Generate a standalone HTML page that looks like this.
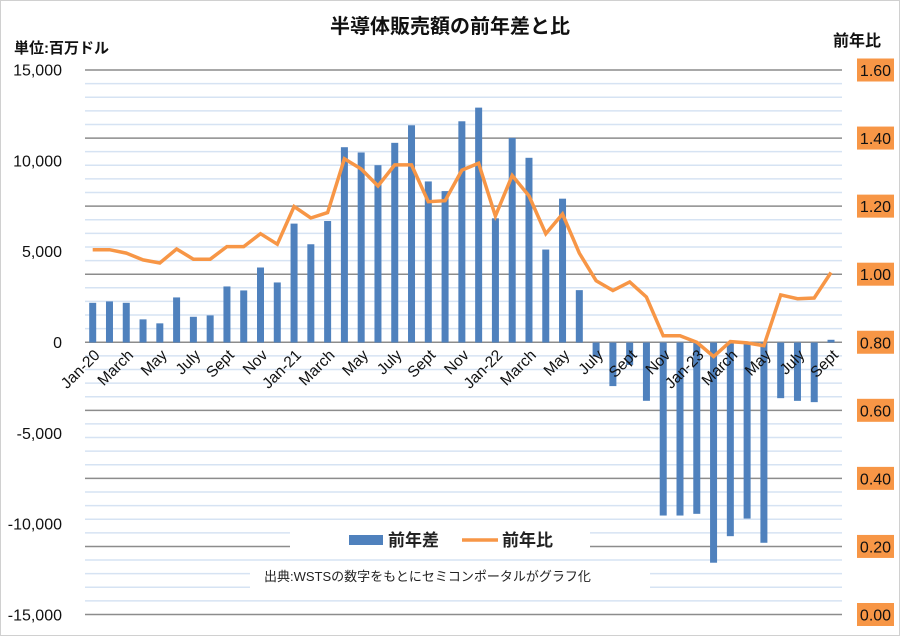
<!DOCTYPE html>
<html><head><meta charset="utf-8">
<style>
html,body{margin:0;padding:0;background:#fff;}
svg{display:block;font-family:"Liberation Sans","Noto Sans CJK JP",sans-serif;}
</style></head>
<body>
<svg id="chart" width="900" height="636" viewBox="0 0 900 636">
<rect x="0.5" y="0.5" width="899" height="635" fill="#fff" stroke="#d0d0d0"/>
<text x="450" y="33" text-anchor="middle" font-size="20" font-weight="bold" fill="#111">半導体販売額の前年差と比</text>
<text x="14" y="53" font-size="15" font-weight="bold" fill="#111">単位:百万ドル</text>
<text x="881" y="46" text-anchor="end" font-size="16" font-weight="bold" fill="#111">前年比</text>
<g id="grid"></g>
<g id="bars"></g>
<g id="line"></g>
<g id="axes"></g>
<rect x="290" y="525" width="300" height="28" fill="#fff"/>
<rect x="349" y="535" width="34" height="10" fill="#4f81bd"/>
<text x="388" y="546" font-size="17" font-weight="bold" fill="#222">前年差</text>
<line x1="462" y1="540" x2="498" y2="540" stroke="#f79646" stroke-width="3.5"/>
<text x="502" y="546" font-size="17" font-weight="bold" fill="#222">前年比</text>
<rect x="250" y="562" width="400" height="26" fill="#fff"/>
<text x="264" y="581" font-size="13" fill="#222">出典:WSTSの数字をもとにセミコンポータルがグラフ化</text>
</svg>
<script>
const leftTicks = [15000,10000,5000,0,-5000,-10000,-15000];
const leftTickLabels = ["15,000","10,000","5,000","0","-5,000","-10,000","-15,000"];
const rightTicks = [1.6,1.4,1.2,1.0,0.8,0.6,0.4,0.2,0.0];
const rightTickLabels = ["1.60","1.40","1.20","1.00","0.80","0.60","0.40","0.20","0.00"];
const months = ["Jan-20","Feb","March","Apr","May","Jun","July","Aug","Sept","Oct","Nov","Dec",
"Jan-21","Feb","March","Apr","May","Jun","July","Aug","Sept","Oct","Nov","Dec",
"Jan-22","Feb","March","Apr","May","Jun","July","Aug","Sept","Oct","Nov","Dec",
"Jan-23","Feb","March","Apr","May","Jun","July","Aug","Sept"];
const diffValues = [2185,2262,2185,1274,1054,2481,1416,1493,3085,2866,4128,3305,
6544,5408,6687,10750,10458,9761,10991,11957,8866,8334,12177,12929,
6835,11265,10167,5117,7917,2882,-780,-2400,-1235,-3210,-9525,-9525,
-9431,-12122,-10661,-9690,-11024,-3064,-3212,-3283,150];
const ratioValues = [1.072,1.072,1.062,1.042,1.033,1.074,1.044,1.044,1.081,1.081,1.119,1.088,
1.199,1.165,1.181,1.339,1.309,1.259,1.321,1.321,1.213,1.216,1.306,1.326,
1.171,1.290,1.230,1.119,1.177,1.062,0.981,0.952,0.977,0.933,0.819,0.819,
0.800,0.758,0.802,0.798,0.790,0.939,0.928,0.930,1.005];

const NS="http://www.w3.org/2000/svg";
const plotTop=70, plotBot=614.5, x0=92.7, dx=16.78, gridL=85, gridR=842;
function yL(v){return 342.5 - v*(272.5/15000);}
function yR(v){return plotBot - v*((plotBot-plotTop)/1.6);}
function xI(i){return x0 + i*dx;}
function mk(tag,attrs,parent){const e=document.createElementNS(NS,tag);for(const k in attrs)e.setAttribute(k,attrs[k]);parent.appendChild(e);return e;}

const grid=document.getElementById('grid');
for(let k=0;k<=40;k++){
  const v=k*0.04; const y=yR(v);
  const major=(k%5===0);
  const ln=mk('line',{x1:gridL,x2:gridR,y1:y,y2:y,stroke:major?'#8c8c8c':'#d6e3f3','stroke-width':1.5},grid);
  
  
}

const bars=document.getElementById('bars');
diffValues.forEach((v,i)=>{
  const y0=yL(0), y1=yL(v);
  const r=mk('rect',{x:xI(i)-3.5,width:7,y:Math.min(y0,y1),height:Math.max(1,Math.abs(y1-y0)),fill:'#4f81bd'},bars);
  
  
});

const lineG=document.getElementById('line');
const pts=ratioValues.map((v,i)=>xI(i).toFixed(1)+','+yR(v).toFixed(1)).join(' ');
const pl=mk('polyline',{points:pts,fill:'none',stroke:'#f79646','stroke-width':3.5,'stroke-linejoin':'miter'},lineG);



const axes=document.getElementById('axes');
leftTicks.forEach((v,i)=>{
  const t=mk('text',{x:62,y:yL(v)+5.5,'text-anchor':'end','font-size':16,fill:'#111'},axes);
  t.textContent=leftTickLabels[i];
  
  
});
rightTicks.forEach((v,i)=>{
  const y=yR(v);
  const r=mk('rect',{x:857,y:y-11.5,width:37,height:23,fill:'#f79646'},axes);
  
  
  const t=mk('text',{x:875.5,y:y+6,'text-anchor':'middle','font-size':16,fill:'#111'},axes);
  t.textContent=rightTickLabels[i];
  
  
});
months.forEach((m,i)=>{
  if(i%2!==0) return;
  const x=xI(i)+8, y=356;
  const t=mk('text',{x:x,y:y,'text-anchor':'end','font-size':15.5,fill:'#111',transform:'rotate(-45 '+x+' '+y+')'},axes);
  t.textContent=m;
  
  
});
</script>
</body></html>
